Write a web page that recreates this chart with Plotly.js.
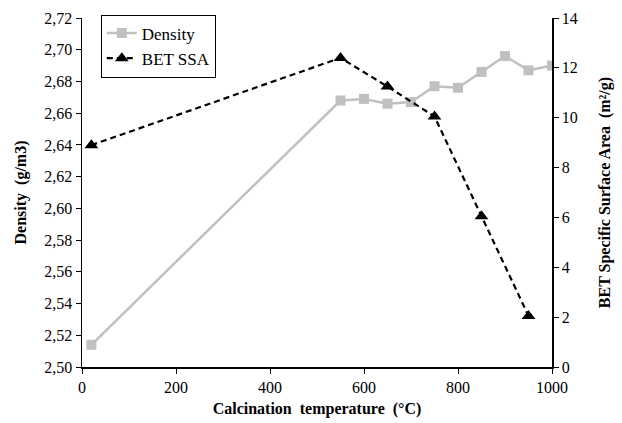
<!DOCTYPE html>
<html>
<head>
<meta charset="utf-8">
<script src="https://cdn.plot.ly/plotly-3.0.1.min.js"></script>
<style>html,body{margin:0;padding:0;background:#fff;}#chart{width:622px;height:423px;}</style>
</head>
<body>
<div id="chart"></div>
<script>
var densityTemp = [20, 550, 600, 650, 700, 750, 800, 850, 900, 950, 1000];
var densityValues = [2.514, 2.668, 2.669, 2.666, 2.667, 2.677, 2.676, 2.686, 2.696, 2.687, 2.690];
var betTemp = [20, 550, 650, 750, 850, 950];
var betValues = [8.9, 12.4, 11.25, 10.05, 6.05, 2.05];
var xTicks = [0, 200, 400, 600, 800, 1000];
var densityTicks = [2.50, 2.52, 2.54, 2.56, 2.58, 2.60, 2.62, 2.64, 2.66, 2.68, 2.70, 2.72];
var betTicks = [0, 2, 4, 6, 8, 10, 12, 14];

var fontFam = '"Liberation Serif", "Times New Roman", serif';

var traces = [
  {
    x: densityTemp, y: densityValues, name: 'Density', type: 'scatter', mode: 'lines+markers',
    line: {color: '#C0C0C0', width: 2.5},
    marker: {symbol: 'square', size: 10, color: '#C0C0C0'},
    yaxis: 'y'
  },
  {
    x: betTemp, y: betValues, name: 'BET SSA', type: 'scatter', mode: 'lines+markers',
    line: {color: '#000000', width: 2.2, dash: '6px,4px'},
    marker: {symbol: 'triangle-up', size: 12, color: '#000000'},
    yaxis: 'y2'
  }
];

var layout = {
  width: 622, height: 423,
  margin: {l: 82, r: 70, t: 18, b: 56},
  paper_bgcolor: '#fff', plot_bgcolor: '#fff',
  separators: ', ',
  font: {family: fontFam, size: 16, color: '#000'},
  showlegend: true,
  legend: {
    x: 0.04, y: 1.01, xanchor: 'left', yanchor: 'top',
    bordercolor: '#000', borderwidth: 1, bgcolor: '#fff',
    font: {family: fontFam, size: 17, color: '#000'},
    tracegroupgap: 2, itemwidth: 30
  },
  xaxis: {
    range: [0, 1000], tickvals: xTicks, ticks: 'outside', ticklen: 5, tickcolor: '#000',
    showline: true, linecolor: '#000', linewidth: 1.5, showgrid: false, zeroline: false,
    title: {text: '<b>Calcination  temperature  (°C)</b>', font: {family: fontFam, size: 16}, standoff: 8},
    tickfont: {family: fontFam, size: 16}
  },
  yaxis: {
    range: [2.50, 2.72], tickvals: densityTicks, tickformat: '.2f', ticks: 'outside', ticklen: 5, tickcolor: '#000',
    showline: true, linecolor: '#000', linewidth: 1.5, showgrid: false, zeroline: false,
    title: {text: '<b>Density  (g/m3)</b>', font: {family: fontFam, size: 16}, standoff: 13},
    tickfont: {family: fontFam, size: 16}
  },
  yaxis2: {
    range: [0, 14], tickvals: betTicks, overlaying: 'y', side: 'right', ticks: 'outside', ticklen: 5, tickcolor: '#000',
    showline: true, linecolor: '#000', linewidth: 1.5, showgrid: false, zeroline: false,
    title: {text: '<b>BET Specific Surface Area  (m²/g)</b>', font: {family: fontFam, size: 16}, standoff: 22},
    tickfont: {family: fontFam, size: 16}
  }
};

Plotly.newPlot('chart', traces, layout, {displayModeBar: false, staticPlot: true});
</script>
</body>
</html>
